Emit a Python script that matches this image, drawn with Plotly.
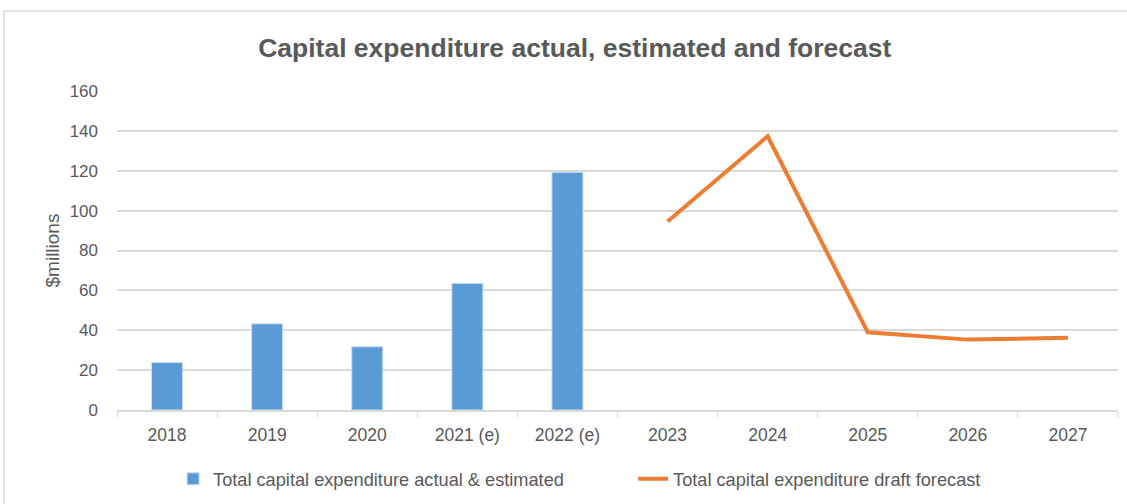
import plotly.graph_objects as go

categories = ["2018", "2019", "2020", "2021 (e)", "2022 (e)", "2023", "2024", "2025", "2026", "2027"]
actual_cats = ["2018", "2019", "2020", "2021 (e)", "2022 (e)"]
actual_vals = [23.8, 43.2, 31.7, 63.5, 119.2]
forecast_cats = ["2023", "2024", "2025", "2026", "2027"]
forecast_vals = [94.5, 137.3, 39.0, 35.3, 36.2]

FONT = "Liberation Sans"
GREY = "#595959"

fig = go.Figure()
fig.add_trace(go.Bar(
    x=actual_cats, y=actual_vals,
    name="Total capital expenditure actual & estimated",
    marker=dict(color="#5B9BD5", line=dict(color="#c9dcef", width=1)),
    width=0.31,
))
fig.add_trace(go.Scatter(
    x=forecast_cats, y=forecast_vals, mode="lines",
    name="Total capital expenditure draft forecast",
    line=dict(color="#ED7D31", width=4),
))

fig.update_layout(
    width=1127, height=504,
    margin=dict(l=117, r=9, t=91, b=94),
    paper_bgcolor="white", plot_bgcolor="white",
    font=dict(family=FONT, color=GREY, size=17),
    title=dict(text="<b>Capital expenditure actual, estimated and forecast</b>",
               x=0.51, xanchor="center", y=0.905, yanchor="middle",
               font=dict(family=FONT, size=26.5, color=GREY)),
    showlegend=True,
    legend=dict(orientation="h", x=0.056, xanchor="left",
                yref="container", y=0.0496, yanchor="middle",
                font=dict(size=18.2, color=GREY), entrywidth=415, traceorder="normal"),
    shapes=[dict(type="rect", xref="paper", yref="paper",
                 x0=-0.1129, x1=1.02, y0=-0.4, y1=1.2508,
                 line=dict(color="#d9d9d9", width=1.5), layer="below")],
)
fig.update_xaxes(
    type="category", categoryorder="array", categoryarray=categories,
    range=[-0.5, 9.5], automargin=False,
    tickson="boundaries", ticks="outside", ticklen=6, tickcolor="#d9d9d9",
    ticklabelstandoff=8,
    showline=True, linecolor="#d9d9d9", linewidth=1.5,
    showgrid=False, tickfont=dict(size=17.5, color=GREY),
)
fig.update_yaxes(
    range=[0, 160], dtick=20, showgrid=True, gridcolor="#d9d9d9", gridwidth=1.5,
    zeroline=False, showline=False, ticks="", ticklabelstandoff=18, automargin=False,
    tickfont=dict(size=17, color=GREY),
    title=dict(text="$millions", font=dict(size=19, color=GREY), standoff=4),
)

fig.write_html("out.html")
